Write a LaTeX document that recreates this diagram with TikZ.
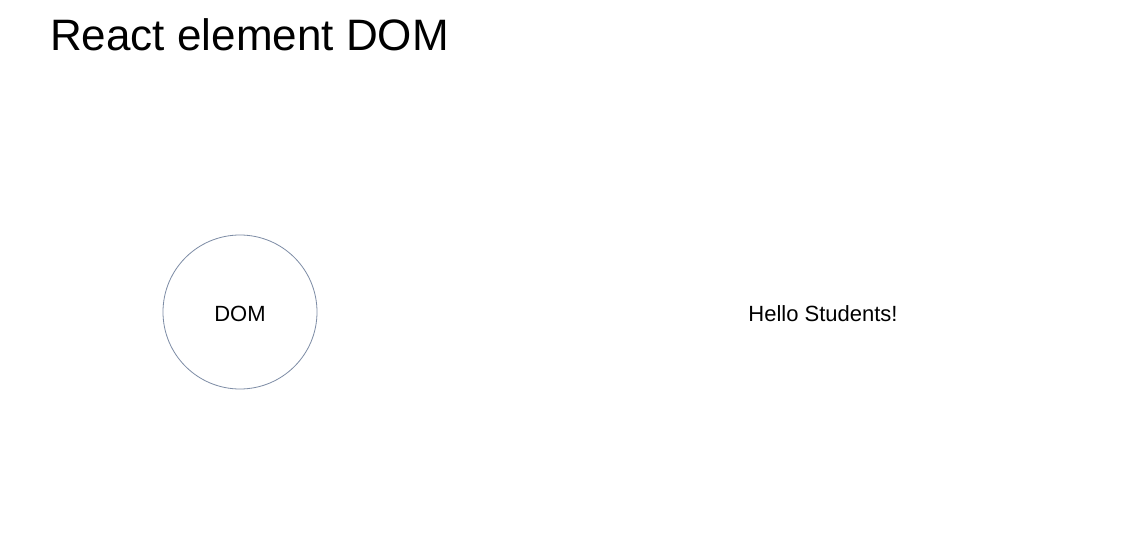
\documentclass[tikz,border=0pt]{standalone}
\usepackage{fontspec}
\setmainfont{Liberation Sans}
\definecolor{ringblue}{RGB}{125,140,165}
\begin{document}
\begin{tikzpicture}[x=1pt,y=-1pt,
  lbl/.style={inner sep=0pt,anchor=base,font=\fontsize{22}{25}\selectfont},
  ring/.style={circle,draw=ringblue,line width=0.8pt,minimum size=154pt,inner sep=0pt}]
\useasboundingbox[fill=white] (0,0) rectangle (1122,543);
\node[inner sep=0pt,anchor=base west,font=\fontsize{44}{50}\selectfont] (title) at (50,50.5) {React element DOM};
\node[ring] (dom) at (240,312) {};
\node[lbl] (domtext) at (240,321) {DOM};
\node[lbl] (hello) at (823,321.5) {Hello Students!};
\end{tikzpicture}
\end{document}
